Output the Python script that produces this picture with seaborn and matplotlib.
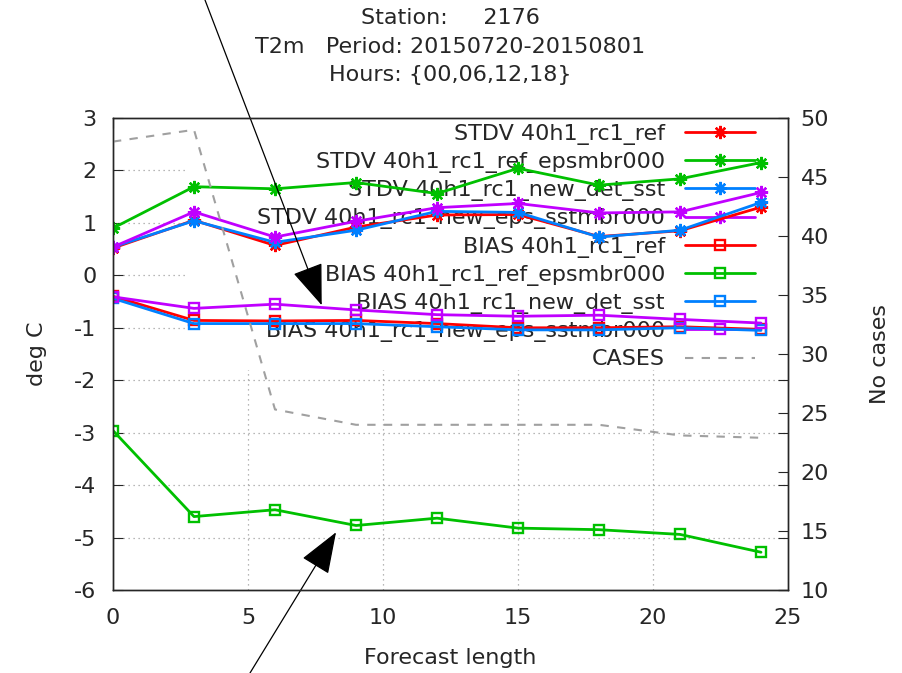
import matplotlib
matplotlib.use("Agg")
import matplotlib.pyplot as plt
from matplotlib.patches import Rectangle
import seaborn as sns
import pandas as pd

# ---------------- data ----------------
lead = [0, 3, 6, 9, 12, 15, 18, 21, 24]

stdv_ref = [0.52, 1.05, 0.57, 0.92, 1.15, 1.16, 0.74, 0.85, 1.30]
stdv_ref_eps = [0.90, 1.69, 1.65, 1.77, 1.56, 2.04, 1.72, 1.84, 2.15]
stdv_new_det = [0.54, 1.04, 0.63, 0.86, 1.22, 1.20, 0.73, 0.86, 1.39]
stdv_new_eps = [0.54, 1.21, 0.73, 1.03, 1.29, 1.37, 1.19, 1.21, 1.58]

bias_ref = [-0.40, -0.86, -0.87, -0.86, -0.92, -1.00, -1.00, -0.98, -1.03]
bias_ref_eps = [-2.96, -4.60, -4.47, -4.77, -4.63, -4.82, -4.85, -4.94, -5.28]
bias_new_det = [-0.44, -0.92, -0.92, -0.92, -0.98, -1.04, -1.04, -1.00, -1.05]
bias_new_eps = [-0.41, -0.63, -0.55, -0.66, -0.75, -0.78, -0.76, -0.84, -0.91]

cases = [48.0, 49.0, 25.3, 24.0, 24.0, 24.0, 24.0, 23.1, 22.9]

labels = [
    "STDV 40h1_rc1_ref",
    "STDV 40h1_rc1_ref_epsmbr000",
    "STDV 40h1_rc1_new_det_sst",
    "STDV 40h1_rc1_new_eps_sstmbr000",
    "BIAS 40h1_rc1_ref",
    "BIAS 40h1_rc1_ref_epsmbr000",
    "BIAS 40h1_rc1_new_det_sst",
    "BIAS 40h1_rc1_new_eps_sstmbr000",
]
series = [stdv_ref, stdv_ref_eps, stdv_new_det, stdv_new_eps,
          bias_ref, bias_ref_eps, bias_new_det, bias_new_eps]

xticks = [0, 5, 10, 15, 20, 25]
yticks = [3, 2, 1, 0, -1, -2, -3, -4, -5, -6]
y2ticks = [50, 45, 40, 35, 30, 25, 20, 15, 10]

title_lines = ["Station:     2176", "T2m   Period: 20150720-20150801", "Hours: {00,06,12,18}"]

# ---------------- style ----------------
sns.set_style("white")
plt.rcParams["font.family"] = ["DejaVu Sans"]
plt.rcParams["axes.unicode_minus"] = False
FS = 16
TXT = "#262626"
colors = ["#ff0000", "#00c000", "#0080ff", "#c000ff"] * 2
asterisk = (8, 2, 0)

fig = plt.figure(figsize=(9.03, 6.73), dpi=100)
W, H = 903, 673
ax = fig.add_axes([113 / W, (H - 590) / H, 675 / W, 472 / H])
ax2 = ax.twinx()

ax.set_xlim(0, 25)
ax.set_ylim(-6, 3)
ax2.set_ylim(10, 50)

# grid (drawn manually so that it sits beneath the opaque key box)
for xv in xticks[1:-1]:
    ax.axvline(xv, color="#a0a0a0", lw=0.9, ls=(0, (1, 3)), zorder=0.3)
for yv in yticks[1:-1]:
    ax.axhline(yv, color="#a0a0a0", lw=0.9, ls=(0, (1, 3)), zorder=0.3)

# opaque key area
ax.add_patch(Rectangle((0.107, 0.466), 0.893, 0.534, transform=ax.transAxes,
                       facecolor="white", edgecolor="none", zorder=0.6))

handles = []
for i, (lab, vals) in enumerate(zip(labels, series)):
    df = pd.DataFrame({"lead": lead, "val": vals})
    is_stdv = i < 4
    sns.lineplot(data=df, x="lead", y="val", ax=ax, color=colors[i], lw=2,
                 marker=asterisk if is_stdv else "s",
                 markersize=9.5 if is_stdv else 7.5,
                 markeredgewidth=1.7,
                 markerfacecolor=colors[i] if is_stdv else "none",
                 markeredgecolor=colors[i],
                 label=lab, zorder=2 + i * 0.01, legend=False)
    handles.append(ax.lines[-1])

dfc = pd.DataFrame({"lead": lead, "cases": cases})
sns.lineplot(data=dfc, x="lead", y="cases", ax=ax2, color="#a0a0a0", lw=1.5,
             dashes=False, label="CASES", legend=False)
ax2.lines[-1].set_dashes([4, 4])
handles.append(ax2.lines[-1])

ax2.set_zorder(ax.get_zorder() + 1)
ax2.patch.set_visible(False)

leg = ax.legend(handles=handles, labels=labels + ["CASES"], loc="upper right",
                bbox_to_anchor=(0.951, 0.988), bbox_transform=ax.transAxes,
                frameon=False, markerfirst=False, fontsize=FS,
                handlelength=3.15, handletextpad=0.9, labelspacing=0.325,
                borderpad=0, borderaxespad=0)
leg.set_zorder(1)
for t in leg.get_texts():
    t.set_color(TXT)

# ticks
ax.set_xticks(xticks)
ax.set_yticks(yticks)
ax2.set_yticks(y2ticks)
ax.tick_params(axis="both", direction="in", length=7, width=0.8, labelsize=FS,
               colors=TXT, top=True, right=True, pad=12)
ax.tick_params(axis="x", pad=13)
ax2.tick_params(axis="y", direction="in", length=7, width=0.8, labelsize=FS,
                colors=TXT, pad=9)
for a in (ax, ax2):
    for s in a.spines.values():
        s.set_color(TXT)
        s.set_linewidth(1.0)

ax.set_xlabel("Forecast length", fontsize=FS, color=TXT)
ax.set_ylabel("deg C", fontsize=FS, color=TXT)
ax2.set_ylabel("No cases", fontsize=FS, color=TXT)
ax.xaxis.label.set_va("center")
ax.yaxis.label.set_va("center")
ax2.yaxis.label.set_va("center")
ax.xaxis.set_label_coords(0.5, -0.144)
ax.yaxis.set_label_coords(-0.112, 0.5)
ax2.yaxis.set_label_coords(1.136, 0.5)

for yy, line in zip([18, 47, 75], title_lines):
    fig.text(450 / W, 1 - yy / H, line, ha="center", va="center",
             fontsize=FS, color=TXT)

# annotation arrows
arrow_kw = dict(arrowstyle="-|>,head_length=1.2,head_width=0.45", color="black",
                lw=0.9, mutation_scale=22, shrinkA=0, shrinkB=0)
ax.annotate("", xy=(7.73, -0.57), xycoords="data", xytext=(205, H),
            textcoords="figure pixels", arrowprops=arrow_kw, annotation_clip=False)
ax.annotate("", xy=(8.26, -4.9), xycoords="data", xytext=(250, 0),
            textcoords="figure pixels", arrowprops=arrow_kw, annotation_clip=False)

fig.savefig("out.png", dpi=100)
